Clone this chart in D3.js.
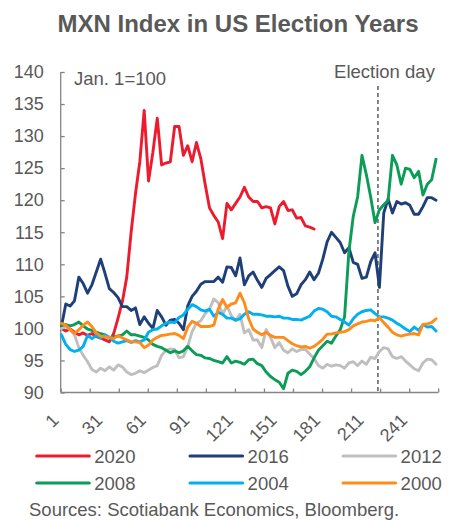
<!DOCTYPE html>
<html>
<head>
<meta charset="utf-8">
<script src="https://cdn.jsdelivr.net/npm/d3@7"></script>
<style>
  html, body { margin: 0; padding: 0; background: #fff; }
  svg { display: block; }
  text { font-family: "Liberation Sans", Arial, sans-serif; fill: #595959; }
</style>
</head>
<body>
<script>
// ---------- data ----------
const title = "MXN Index in US Election Years";
const baseNote = "Jan. 1=100";
const eventLabel = "Election day";
const eventDay = 219;
const sourceNote = "Sources: Scotiabank Economics, Bloomberg.";
const totalDays = 260;
const days = d3.range(1, 260, 3);            // trading-day index of each sample
const xTickLabels = [1, 31, 61, 91, 121, 151, 181, 211, 241];
const yTicks = [90, 95, 100, 105, 110, 115, 120, 125, 130, 135, 140];
const seriesNames = ["2020", "2016", "2012", "2008", "2004", "2000"];
const seriesColors = ["#ec1c2e", "#1f3f78", "#bfbfbf", "#0b9c58", "#00b0f0", "#ff8c1a"];

const v2020 = [100.0,99.6,99.9,99.4,99.0,99.3,98.9,99.2,98.7,98.5, 98.2,97.9,99.2,101.6,104.2,108.0,115.0,121.0,126.0,134.0,
  123.0,127.5,132.8,125.5,125.8,126.0,131.5,131.5,127.0,128.5, 126.0,129.0,126.5,122.5,118.8,117.6,116.6,114.0,119.5,118.5,
  119.5,120.5,122.0,120.5,119.8,119.8,118.8,119.0,118.8,116.3, 119.0,119.8,118.4,118.5,117.2,117.3,116.0,115.8,115.5];
const v2016 = [100.3,103.8,103.5,104.3,108.0,107.0,105.5,106.8,108.8,110.8, 108.6,106.2,105.6,104.8,103.4,103.4,102.8,103.2,100.6,101.8,
  100.8,100.0,102.8,101.8,100.5,101.3,101.4,100.8,99.8,103.5, 105.0,105.8,106.9,107.3,107.3,107.3,108.0,107.2,109.6,109.5,
  108.2,111.0,106.8,108.2,108.8,107.5,106.4,107.8,108.4,109.0, 109.6,109.0,106.6,105.0,105.4,106.8,107.6,108.8,107.6,108.6,
  110.8,113.5,115.0,114.2,113.4,111.8,112.6,110.3,110.0,107.8, 108.0,110.4,111.8,106.4,118.0,120.2,118.0,119.8,119.4,119.6,
  119.2,117.8,117.8,119.0,120.4,120.4,120.0];
const v2012 = [100.0,100.3,99.8,99.0,97.0,95.8,94.8,93.6,93.2,93.8, 93.4,94.0,93.5,94.3,94.0,93.2,92.8,93.0,93.4,93.1,
  93.5,93.9,94.2,95.8,96.6,96.8,96.7,95.4,95.6,97.2, 99.5,100.8,101.2,102.3,103.0,104.6,104.0,102.2,103.5,102.0,
  101.2,102.2,99.3,99.8,98.2,98.2,97.0,99.8,98.6,97.0, 97.8,96.6,96.2,96.8,96.4,96.7,96.7,96.0,95.3,94.2,
  93.8,94.4,94.1,94.3,94.2,93.8,94.6,94.8,94.2,94.9, 94.4,95.5,95.3,96.4,97.0,96.8,95.6,95.3,95.6,94.9,
  94.3,93.7,93.4,94.6,95.2,95.1,94.4];
const v2008 = [100.5,100.6,100.4,100.6,101.0,100.4,99.9,99.7,99.4,99.2, 99.0,98.5,98.7,98.8,99.0,99.6,99.0,99.0,98.8,98.6,
  98.2,97.5,97.2,97.0,96.6,96.2,96.5,96.2,96.5,97.2, 96.5,95.9,95.8,95.4,95.3,95.0,94.8,94.6,95.6,94.6,
  94.9,94.7,94.4,95.1,95.2,94.5,94.2,93.2,92.5,92.0, 91.6,90.6,93.0,93.5,93.3,92.8,93.3,94.0,95.4,96.6,
  97.3,98.0,97.7,98.8,99.8,101.8,112.0,117.5,120.5,127.0, 124.0,120.5,116.5,118.5,119.3,120.0,127.0,125.5,122.5,125.0,
  124.8,123.5,124.5,120.8,122.5,123.2,126.4];
const v2004 = [99.0,97.5,96.7,96.4,96.6,97.2,98.9,98.4,98.9,98.5, 99.0,98.6,98.0,97.7,97.9,98.1,97.8,98.1,97.9,98.2,
  99.4,99.8,99.9,100.4,100.8,101.0,100.9,101.7,102.1,103.0, 103.7,103.4,102.9,102.7,103.0,101.9,102.5,102.2,101.6,101.6,
  101.3,101.5,102.2,102.6,102.2,102.2,102.1,101.9,101.9,101.8, 101.9,101.6,101.6,101.4,101.4,101.3,101.6,101.9,102.7,103.1,
  103.0,102.6,101.9,101.8,101.4,101.0,100.5,101.5,102.2,102.6, 102.8,102.9,102.3,101.8,101.8,101.6,101.3,100.8,100.4,99.9,
  99.5,100.2,99.7,100.6,100.2,100.3,99.6];
const v2000 = [100.8,100.5,99.8,99.2,99.8,100.5,101.0,100.3,99.3,98.8, 98.7,98.6,98.4,98.9,98.5,98.2,97.9,97.9,97.8,97.0,
  97.4,98.2,98.6,98.9,99.0,99.1,99.2,98.9,98.4,100.2, 101.1,100.8,100.3,100.3,100.3,100.5,103.0,104.5,103.3,103.8,
  104.0,105.5,104.0,101.5,99.9,99.4,99.0,99.4,98.9,98.6, 98.6,98.6,98.1,97.6,97.3,97.1,97.2,96.9,97.2,97.7,
  98.3,99.1,99.1,99.3,99.4,99.5,99.8,100.4,100.7,101.0, 101.1,101.3,101.2,101.7,100.9,100.2,99.4,99.0,98.8,99.0,
  99.1,99.2,99.0,100.6,100.7,100.9,101.5];
const seriesValues = [v2020, v2016, v2012, v2008, v2004, v2000];

// ---------- layout ----------
const W = 455, H = 520;
const plot = { left: 60.7, right: 438.2, top: 72, bottom: 392.5 };

const svg = d3.select("body").append("svg").attr("width", W).attr("height", H);
svg.append("rect").attr("width", W).attr("height", H).attr("fill", "#fff");

const x = d3.scaleLinear().domain([0.5, totalDays + 0.5]).range([plot.left, plot.right]);
const y = d3.scaleLinear().domain([90, 140]).range([plot.bottom, plot.top]);

// title
svg.append("text").attr("x", 238).attr("y", 32).attr("text-anchor", "middle")
  .style("font-size", "24px").style("font-weight", "bold").text(title);

// y axis
const axisColor = "#858585";
const yAxis = svg.append("g").attr("transform", `translate(${plot.left},0)`)
  .call(d3.axisLeft(y).tickValues(yTicks).tickSize(-4).tickPadding(17));
yAxis.select(".domain").attr("stroke", axisColor).attr("stroke-width", 1.3)
  .attr("d", `M0,${plot.top}V${plot.bottom}`);
yAxis.selectAll(".tick line").attr("stroke", axisColor).attr("stroke-width", 1.3);
yAxis.selectAll(".tick text").style("font-size", "18px").attr("fill", "#595959")
  .style("font-family", '"Liberation Sans", Arial, sans-serif');

// x axis: tick marks every 20 days (category boundaries), labels every 30 days
const xBoundaries = d3.range(0, totalDays + 1, 20).map(d => d + 0.5);
const xAxis = svg.append("g").attr("transform", `translate(0,${plot.bottom})`)
  .call(d3.axisBottom(x).tickValues(xBoundaries).tickSize(-4).tickFormat(""));
xAxis.select(".domain").attr("stroke", axisColor).attr("stroke-width", 1.3)
  .attr("d", `M${plot.left},0H${plot.right}`);
xAxis.selectAll(".tick line").attr("stroke", axisColor).attr("stroke-width", 1.3);

svg.append("g").selectAll("text").data(xTickLabels).join("text")
  .attr("transform", d => `translate(${x(d) - 1.5},${plot.bottom + 29}) rotate(-45)`)
  .attr("text-anchor", "end")
  .style("font-size", "18px")
  .text(d => d);

// note
svg.append("text").attr("x", 74).attr("y", 84.5).style("font-size", "18.5px").text(baseNote);

// election day marker
svg.append("line")
  .attr("x1", x(eventDay)).attr("x2", x(eventDay))
  .attr("y1", 86).attr("y2", plot.bottom)
  .attr("stroke", "#444").attr("stroke-width", 1.3).attr("stroke-dasharray", "4,3");
svg.append("text").attr("x", 384.5).attr("y", 78).attr("text-anchor", "middle")
  .style("font-size", "18.5px").text(eventLabel);

// lines
const line = d3.line()
  .defined(d => d[1] != null)
  .x(d => x(d[0])).y(d => y(d[1]));

seriesValues.forEach((vals, k) => {
  const pts = vals.map((v, i) => [days[i], v]);
  svg.append("path").datum(pts)
    .attr("fill", "none").attr("stroke", seriesColors[k])
    .attr("stroke-width", 2.9).attr("stroke-linejoin", "round").attr("stroke-linecap", "round")
    .attr("d", line);
});

// legend
const legCols = [36.7, 190, 343];
const legRows = [456, 483];
const leg = svg.append("g");
seriesNames.forEach((name, k) => {
  const cx = legCols[k % 3], cy = legRows[Math.floor(k / 3)];
  leg.append("line").attr("x1", cx).attr("x2", cx + 52.6).attr("y1", cy).attr("y2", cy)
    .attr("stroke", seriesColors[k]).attr("stroke-width", 3).attr("stroke-linecap", "round");
  leg.append("text").attr("x", cx + 57.6).attr("y", cy + 7).style("font-size", "18.5px").text(name);
});

// source
svg.append("text").attr("x", 29).attr("y", 515.5).style("font-size", "18.5px").text(sourceNote);
</script>
</body>
</html>
